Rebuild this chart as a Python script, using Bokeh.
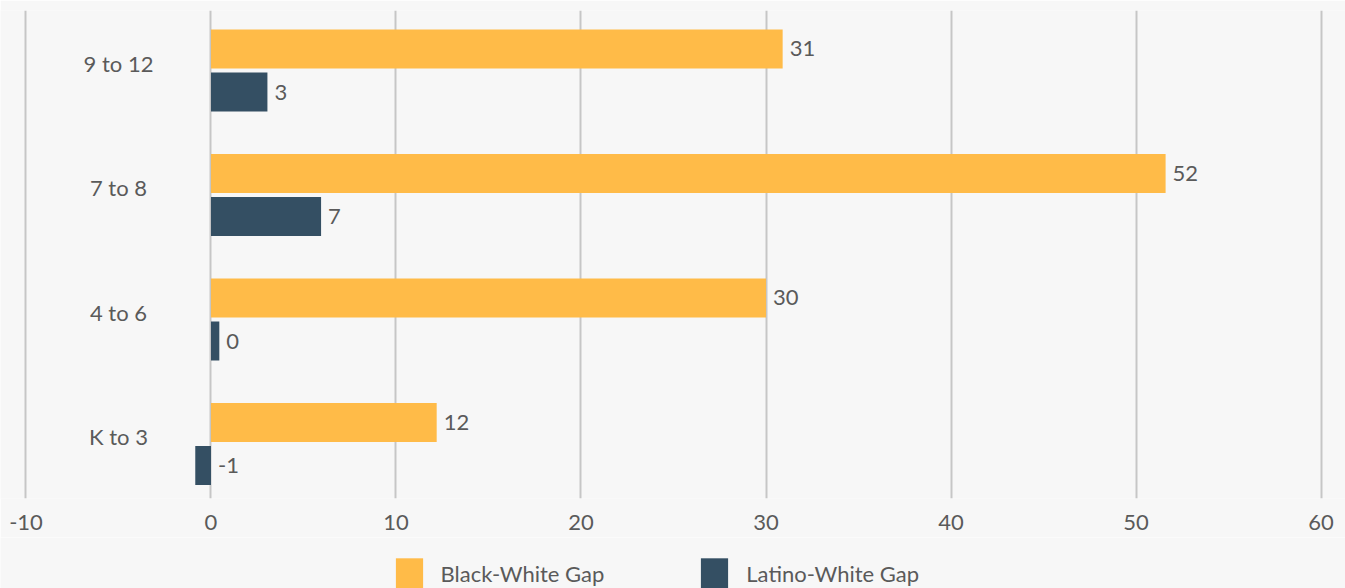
from bokeh.plotting import figure
from bokeh.layouts import column
from bokeh.models import Range1d, FixedTicker, Legend, LegendItem, ColumnDataSource
from bokeh.embed import file_html
from bokeh.resources import INLINE
from bokeh.core.properties import value

# ---- data ----
categories = ["K to 3", "4 to 6", "7 to 8", "9 to 12"]
black_white_gap = [12.2, 30.0, 51.6, 30.9]
latino_white_gap = [-0.85, 0.45, 5.95, 3.05]
black_white_labels = ["12", "30", "52", "31"]
latino_white_labels = ["-1", "0", "7", "3"]
x_ticks = [-10, 0, 10, 20, 30, 40, 50, 60]
series_names = ["Black-White Gap", "Latino-White Gap"]

# ---- style ----
YELLOW = "#FFBB48"
NAVY = "#344F63"
TEXT = "#5a5a5a"
GRID = "#c6c6c6"
BG = "#f7f7f7"
FONT = "Lato"
FS = "22px"

pos = list(range(len(categories)))
off = 0.173
bar_h = 0.313

p = figure(frame_width=1345, frame_height=488, output_backend="svg", toolbar_location=None,
           x_range=Range1d(-11.378, 61.324), y_range=Range1d(-0.438, 3.482),
           x_axis_location="below", y_axis_location=None,
           min_border_left=0, min_border_right=0, min_border_top=10, min_border_bottom=39,
           background_fill_color=BG, border_fill_color=BG, outline_line_color=None)

ticker = FixedTicker(ticks=x_ticks)
p.xaxis.ticker = ticker
p.xaxis.major_label_overrides = {t: str(t) for t in x_ticks}
p.xaxis.axis_line_color = None
p.xaxis.major_tick_line_color = None
p.xaxis.minor_tick_line_color = None
p.xaxis.major_tick_out = 0
p.xaxis.major_tick_in = 0
p.xaxis.major_label_standoff = 16
p.xaxis.major_label_text_font = FONT
p.xaxis.major_label_text_font_size = FS
p.xaxis.major_label_text_color = TEXT

p.xgrid.ticker = ticker
p.xgrid.grid_line_color = GRID
p.xgrid.grid_line_width = 2
p.ygrid.visible = False

src_b = ColumnDataSource(dict(
    y=[i + off for i in pos], right=black_white_gap, lab=black_white_labels,
    lx=[max(v, 0) for v in black_white_gap]))
src_l = ColumnDataSource(dict(
    y=[i - off for i in pos], right=latino_white_gap, lab=latino_white_labels,
    lx=[max(v, 0) for v in latino_white_gap]))

p.hbar(y="y", left=0, right="right", height=bar_h, fill_color=YELLOW,
       line_color=None, source=src_b)
p.hbar(y="y", left=0, right="right", height=bar_h, fill_color=NAVY,
       line_color=None, source=src_l)

for src in (src_b, src_l):
    p.text(x="lx", y="y", text="lab", source=src, x_offset=7,
           text_align="left", text_baseline="middle",
           text_font=value(FONT), text_font_size=FS, text_color=TEXT)

p.text(x=[-5] * len(categories), y=pos, text=categories, y_offset=-7,
       text_align="center", text_baseline="middle",
       text_font=value(FONT), text_font_size=FS, text_color=TEXT)

# ---- legend strip (same series, bars kept outside its visible range) ----
leg = figure(width=1345, height=51, output_backend="svg", toolbar_location=None,
             x_range=Range1d(-11.378, 61.324), y_range=Range1d(100, 101),
             x_axis_location=None, y_axis_location=None,
             min_border_left=0, min_border_right=0, min_border_top=0, min_border_bottom=0,
             background_fill_color=BG, border_fill_color=BG, outline_line_color=None)
leg.xgrid.visible = False
leg.ygrid.visible = False
lr1 = leg.hbar(y="y", left=0, right="right", height=bar_h, fill_color=YELLOW,
               line_color=None, source=src_b)
lr2 = leg.hbar(y="y", left=0, right="right", height=bar_h, fill_color=NAVY,
               line_color=None, source=src_l)

legend = Legend(items=[LegendItem(label=series_names[0], renderers=[lr1]),
                       LegendItem(label=series_names[1], renderers=[lr2])],
                orientation="horizontal", location=(391.6, -4.25),
                glyph_width=34, glyph_height=38, label_standoff=15, spacing=93,
                padding=0, margin=0, border_line_color=None,
                background_fill_alpha=0,
                label_text_font=FONT, label_text_font_size=FS,
                label_text_color=TEXT)
leg.add_layout(legend, "center")

layout = column(p, leg, spacing=0)
open("out.html", "w").write(file_html(layout, INLINE))
